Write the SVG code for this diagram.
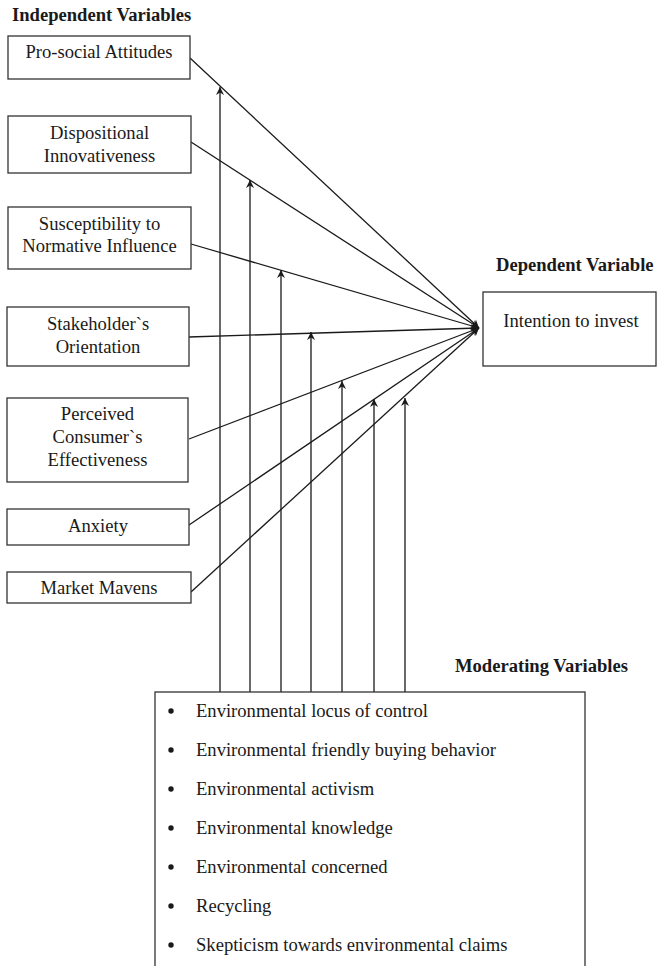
<svg xmlns="http://www.w3.org/2000/svg" width="657" height="966" viewBox="0 0 657 966">
<style>
text{font-family:"Liberation Serif","Times New Roman",serif;font-size:18.6px;fill:#1a1a1a}
.h{font-weight:bold}
.c{text-anchor:middle}
.box{fill:#fff;stroke:#333;stroke-width:1.3}
.ln{fill:none;stroke:#1a1a1a;stroke-width:1.3}
.b{fill:#1a1a1a}
</style>
<defs>
<marker id="ah" viewBox="0 0 10 10" refX="10" refY="5" markerWidth="9" markerHeight="8" markerUnits="userSpaceOnUse" orient="auto">
<path d="M0,0 L10,5 L0,10 L3,5 Z" fill="#1a1a1a"/>
</marker>
</defs>
<rect width="657" height="966" fill="#fff"/>
<text class="h" x="12" y="21">Independent Variables</text>
<text class="h" x="496" y="271">Dependent Variable</text>
<text class="h" x="455" y="672">Moderating Variables</text>

<g id="connectors">
<line class="ln" x1="190" y1="58" x2="479" y2="328" marker-end="url(#ah)"/>
<line class="ln" x1="191" y1="142" x2="479" y2="328" marker-end="url(#ah)"/>
<line class="ln" x1="191" y1="244" x2="479" y2="328" marker-end="url(#ah)"/>
<line class="ln" x1="189" y1="337" x2="479" y2="328" marker-end="url(#ah)"/>
<line class="ln" x1="189" y1="439" x2="479" y2="328" marker-end="url(#ah)"/>
<line class="ln" x1="189" y1="525" x2="479" y2="328" marker-end="url(#ah)"/>
<line class="ln" x1="191" y1="592" x2="479" y2="328" marker-end="url(#ah)"/>
<line class="ln" x1="220" y1="692" x2="220" y2="87" marker-end="url(#ah)"/>
<line class="ln" x1="250" y1="692" x2="250" y2="180" marker-end="url(#ah)"/>
<line class="ln" x1="281" y1="692" x2="281" y2="270" marker-end="url(#ah)"/>
<line class="ln" x1="311" y1="692" x2="311" y2="332" marker-end="url(#ah)"/>
<line class="ln" x1="342" y1="692" x2="342" y2="381" marker-end="url(#ah)"/>
<line class="ln" x1="374" y1="692" x2="374" y2="399" marker-end="url(#ah)"/>
<line class="ln" x1="405" y1="692" x2="405" y2="398" marker-end="url(#ah)"/>
</g>

<g id="n1"><rect class="box" x="8" y="36" width="182" height="43"/><text class="c" x="99" y="58">Pro-social Attitudes</text></g>
<g id="n2"><rect class="box" x="8" y="116" width="183" height="57"/><text class="c" x="99.5" y="139">Dispositional</text><text class="c" x="99.5" y="162">Innovativeness</text></g>
<g id="n3"><rect class="box" x="8" y="207" width="183" height="62"/><text class="c" x="99.5" y="230">Susceptibility to</text><text class="c" x="99.5" y="252">Normative Influence</text></g>
<g id="n4"><rect class="box" x="7" y="307" width="182" height="59"/><text class="c" x="98" y="330">Stakeholder`s</text><text class="c" x="98" y="353">Orientation</text></g>
<g id="n5"><rect class="box" x="7" y="398" width="181" height="84"/><text class="c" x="97.5" y="420">Perceived</text><text class="c" x="97.5" y="443">Consumer`s</text><text class="c" x="97.5" y="466">Effectiveness</text></g>
<g id="n6"><rect class="box" x="7" y="509" width="182" height="36"/><text class="c" x="98" y="532">Anxiety</text></g>
<g id="n7"><rect class="box" x="7" y="572" width="184" height="31"/><text class="c" x="99" y="594">Market Mavens</text></g>
<g id="dv"><rect class="box" x="483" y="292" width="173" height="74"/><text class="c" x="571" y="327">Intention to invest</text></g>
<g id="mv">
<rect class="box" x="155" y="692" width="430" height="290"/>
<circle class="b" cx="171" cy="711" r="2.7"/><text x="196" y="717">Environmental locus of control</text>
<circle class="b" cx="171" cy="750" r="2.7"/><text x="196" y="756">Environmental friendly buying behavior</text>
<circle class="b" cx="171" cy="789" r="2.7"/><text x="196" y="795">Environmental activism</text>
<circle class="b" cx="171" cy="828" r="2.7"/><text x="196" y="834">Environmental knowledge</text>
<circle class="b" cx="171" cy="867" r="2.7"/><text x="196" y="873">Environmental concerned</text>
<circle class="b" cx="171" cy="906" r="2.7"/><text x="196" y="912">Recycling</text>
<circle class="b" cx="171" cy="945" r="2.7"/><text x="196" y="951">Skepticism towards environmental claims</text>
</g>
</svg>
